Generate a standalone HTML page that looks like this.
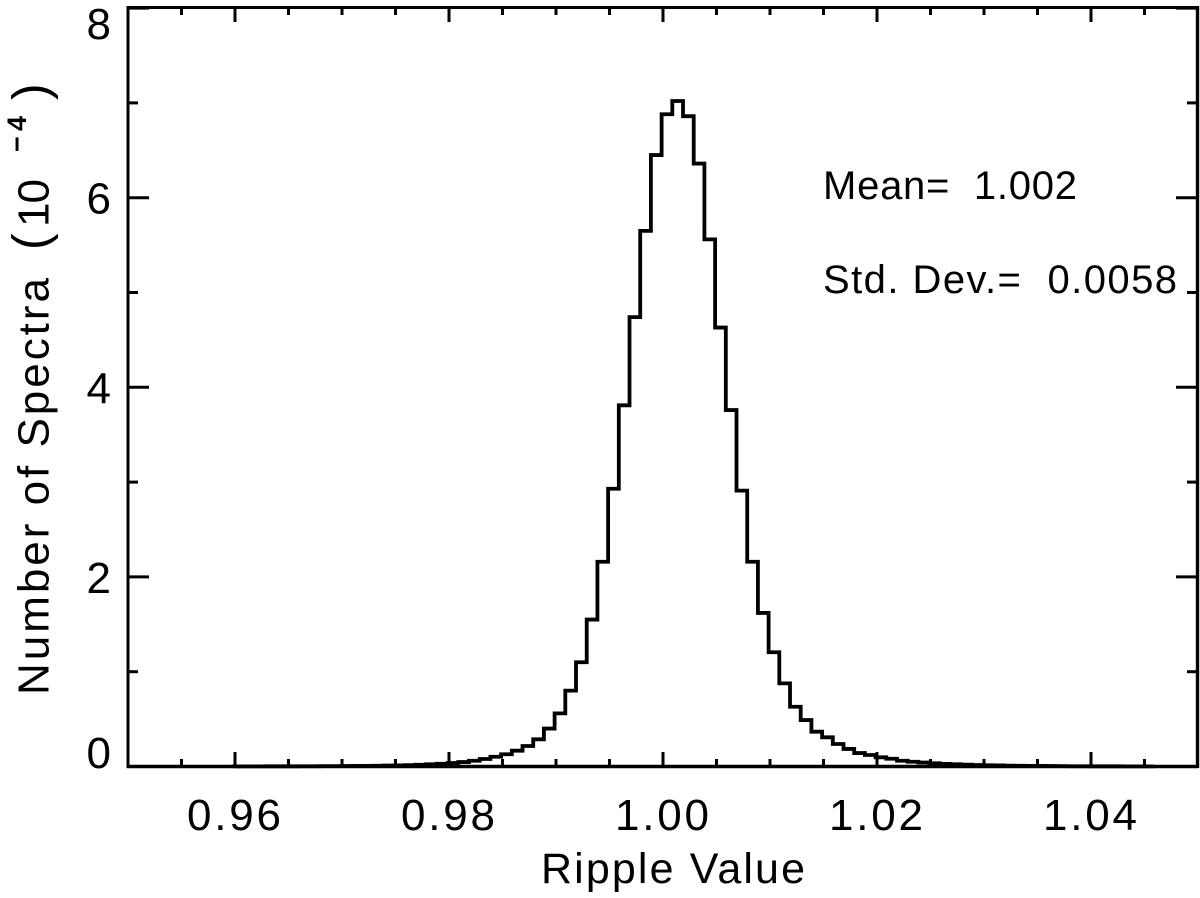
<!DOCTYPE html>
<html>
<head>
<meta charset="utf-8">
<title>Ripple Value Histogram</title>
<style>
  html, body { margin: 0; padding: 0; background: #fff; }
  svg { display: block; }
  text { font-family: "Liberation Sans", sans-serif; fill: #000; white-space: pre; }
</style>
</head>
<body>
<svg id="chart" width="1200" height="898" viewBox="0 0 1200 898" xmlns="http://www.w3.org/2000/svg">
  <rect x="0" y="0" width="1200" height="898" fill="#fff"/>
  <g id="ticks"></g>
  <path id="hist" fill="none" stroke="#000" stroke-width="3.8" stroke-linejoin="miter"></path>
  <g stroke="#000" fill="none">
    <line x1="128" y1="6" x2="128" y2="768" stroke-width="3"/>
    <line x1="127" y1="7.5" x2="1198" y2="7.5" stroke-width="3"/>
    <line x1="127" y1="766.5" x2="1198" y2="766.5" stroke-width="3.4"/>
    <line x1="1197.5" y1="6" x2="1197.5" y2="768" stroke-width="3.4"/>
  </g>
  <g id="labels"></g>
  <text x="541" y="883" font-size="43" textLength="264" lengthAdjust="spacing">Ripple Value</text>
  <g>
    <text transform="translate(48.5,695) rotate(-90)" font-size="44" textLength="417" lengthAdjust="spacing">Number of Spectra</text>
    <text transform="translate(47.5,250) rotate(-90)" font-size="50">(</text>
    <text transform="translate(48.5,227) rotate(-90)" font-size="44" textLength="48" lengthAdjust="spacing">10</text>
    <text transform="translate(26,152) rotate(-90)" font-size="27" font-weight="bold" textLength="36" lengthAdjust="spacing">−4</text>
    <text transform="translate(47.5,100) rotate(-90)" font-size="50">)</text>
  </g>
  <text x="823" y="199" font-size="40" textLength="254" lengthAdjust="spacing">Mean=  1.002</text>
  <text x="823" y="293" font-size="40" textLength="354" lengthAdjust="spacing">Std. Dev.=  0.0058</text>
</svg>
<script>
const xTickValues = [0.96, 0.98, 1.00, 1.02, 1.04];
const xTickLabels = ["0.96", "0.98", "1.00", "1.02", "1.04"];
const yTickValues = [0, 2, 4, 6, 8];
const yTickLabels = ["0", "2", "4", "6", "8"];
const xMinorValues = [0.955, 0.965, 0.97, 0.975, 0.985, 0.99, 0.995, 1.005, 1.01, 1.015, 1.025, 1.03, 1.035, 1.045];
const yMinorValues = [1, 3, 5, 7];
const binStart = 0.95987;
const binWidth = 0.001;
const binCounts = [
  0.001, 0.001, 0.001, 0.002, 0.002, 0.002, 0.003, 0.003, 0.004, 0.004,
  0.005, 0.006, 0.007, 0.008, 0.010, 0.012, 0.014, 0.018, 0.023, 0.029,
  0.037, 0.047, 0.061, 0.079, 0.103, 0.129, 0.167, 0.216, 0.287, 0.40,
  0.56, 0.80, 1.10, 1.55, 2.16, 2.93, 3.81, 4.74, 5.65, 6.45,
  6.88, 7.02, 6.86, 6.36, 5.56, 4.63, 3.76, 2.91, 2.16, 1.62,
  1.205, 0.877, 0.63, 0.49, 0.367, 0.308, 0.237, 0.185, 0.142, 0.121,
  0.097, 0.082, 0.061, 0.05, 0.042, 0.034, 0.028, 0.023, 0.019, 0.016,
  0.013, 0.011, 0.009, 0.008, 0.007, 0.006, 0.005, 0.004, 0.003, 0.003,
  0.002, 0.002, 0.002, 0.001, 0.001, 0.001
];

const SVG_NS = "http://www.w3.org/2000/svg";
function xScale(v) { return 128 + (v - 0.95) * 10700; }
function yScale(v) { return 766.5 - v * 94.8; }

const tickGroup = document.getElementById("ticks");
const labelGroup = document.getElementById("labels");

function addTick(x1, y1, x2, y2) {
  const t = document.createElementNS(SVG_NS, "line");
  t.setAttribute("x1", x1);
  t.setAttribute("y1", y1);
  t.setAttribute("x2", x2);
  t.setAttribute("y2", y2);
  t.setAttribute("stroke", "#000");
  t.setAttribute("stroke-width", "3");
  
  
  tickGroup.appendChild(t);
}

xTickValues.forEach(function (v) {
  const x = xScale(v);
  addTick(x, 766, x, 752);
  addTick(x, 8, x, 22);
});
xMinorValues.forEach(function (v) {
  const x = xScale(v);
  addTick(x, 766, x, 759);
  addTick(x, 8, x, 15);
});
yTickValues.forEach(function (v) {
  const y = yScale(v);
  addTick(128, y, 149, y);
  addTick(1197, y, 1176, y);
});
yMinorValues.forEach(function (v) {
  const y = yScale(v);
  addTick(128, y, 138, y);
  addTick(1197, y, 1187, y);
});

xTickValues.forEach(function (v, i) {
  const t = document.createElementNS(SVG_NS, "text");
  t.setAttribute("x", xScale(v) - 48);
  t.setAttribute("y", 830);
  t.setAttribute("font-size", "44");
  t.setAttribute("textLength", "94");
  t.setAttribute("lengthAdjust", "spacing");
  t.textContent = xTickLabels[i];
  
  
  labelGroup.appendChild(t);
});
yTickValues.forEach(function (v, i) {
  const baseline = Math.min(768, Math.max(39, yScale(v) + 16));
  const t = document.createElementNS(SVG_NS, "text");
  t.setAttribute("x", 111);
  t.setAttribute("y", baseline);
  t.setAttribute("font-size", "44");
  t.setAttribute("text-anchor", "end");
  t.textContent = yTickLabels[i];
  
  
  labelGroup.appendChild(t);
});

let d = "M" + xScale(binStart).toFixed(2) + " " + yScale(0).toFixed(2);
binCounts.forEach(function (c, i) {
  const y = yScale(c).toFixed(2);
  d += " L" + xScale(binStart + i * binWidth).toFixed(2) + " " + y;
  d += " L" + xScale(binStart + (i + 1) * binWidth).toFixed(2) + " " + y;
});
document.getElementById("hist").setAttribute("d", d);
</script>
</body>
</html>
